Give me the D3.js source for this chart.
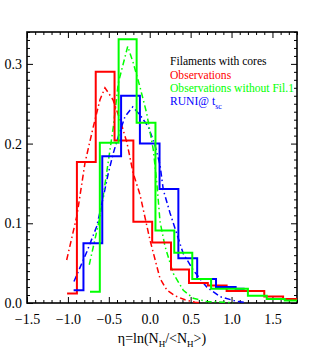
<!DOCTYPE html>
<html>
<head>
<meta charset="utf-8">
<script src="https://cdn.jsdelivr.net/npm/d3@7"></script>
<style>
  body { margin: 0; background: #fff; }
  text { font-family: "Liberation Serif", "Times New Roman", serif; }
</style>
</head>
<body>
<div class="chart"></div>
<script>
// histogram bin edges (eta) and heights
const redEdges = [-1.01, -0.89, -0.66, -0.43, -0.20, 0.03, 0.26, 0.48, 0.71, 0.94, 1.17, 1.40, 1.63, 1.80];
const redCounts = [0.012, 0.177, 0.290, 0.204, 0.102, 0.076, 0.042, 0.025, 0.022, 0.015, 0.015, 0.008, 0.005];

const greenEdges = [-0.73, -0.61, -0.38, -0.16, 0.07, 0.30, 0.52, 0.75, 0.98, 1.20, 1.43, 1.65, 1.80];
const greenCounts = [0.014, 0.201, 0.331, 0.226, 0.091, 0.063, 0.030, 0.018, 0.018, 0.009, 0.005, 0.003];

const blueEdges = [-0.93, -0.81, -0.58, -0.35, -0.12, 0.12, 0.35, 0.58, 0.81, 1.05, 1.16];
const blueCounts = [0.016, 0.075, 0.184, 0.260, 0.200, 0.143, 0.056, 0.030, 0.020, 0.018];

// fitted curves (dash-dot)
const redFit = [[-1.015,0.054],[-0.889,0.110],[-0.791,0.176],[-0.690,0.221],[-0.608,0.255],[-0.547,0.270],
  [-0.449,0.255],[-0.363,0.230],[-0.278,0.201],[-0.205,0.164],[-0.119,0.136],[0.003,0.079],[0.125,0.031],
  [0.211,0.016],[0.309,0.009],[0.431,0.004],[0.553,0.001],[0.62,0.0]];
const greenFit = [[-0.739,0.048],[-0.608,0.108],[-0.534,0.158],[-0.445,0.221],[-0.384,0.276],[-0.269,0.322],
  [-0.201,0.301],[-0.119,0.271],[-0.037,0.238],[0.044,0.192],[0.089,0.148],[0.126,0.102],[0.187,0.071],
  [0.288,0.037],[0.410,0.016],[0.533,0.006],[0.696,0.002],[1.018,0.0004]];
const blueFit = [[-0.926,0.027],[-0.770,0.064],[-0.648,0.096],[-0.567,0.133],[-0.506,0.163],[-0.445,0.188],
  [-0.384,0.209],[-0.302,0.234],[-0.208,0.246],[-0.119,0.236],[-0.017,0.221],[0.064,0.198],[0.126,0.173],
  [0.166,0.142],[0.248,0.113],[0.330,0.087],[0.410,0.062],[0.533,0.041],[0.696,0.020],[0.859,0.008],
  [1.063,0.002],[1.185,0.0004]];

const xTicks = [-1.5, -1.0, -0.5, 0.0, 0.5, 1.0, 1.5];
const yTicks = [0.0, 0.1, 0.2, 0.3];
const legendLabels = ["Filaments with cores", "Observations", "Observations without Fil.1", "RUNI@ t"];

const W = 314, H = 353;
const margin = {top: 32, right: 17, bottom: 50, left: 27};
const w = W - margin.left - margin.right;
const h = H - margin.top - margin.bottom;
const serif = "Liberation Serif, Times New Roman, serif";

const svg = d3.select(".chart").append("svg")
    .attr("width", W)
    .attr("height", H);

const g = svg.append("g")
    .attr("transform", `translate(${margin.left},${margin.top})`);

const x = d3.scaleLinear().domain([-1.5, 1.8]).range([0, w]);
const y = d3.scaleLinear().domain([0, 0.34]).range([h, 0]);

const xMinor = d3.range(-15, 19).map(d => d / 10).filter(d => xTicks.indexOf(d) < 0);
const yMinor = d3.range(0, 35).map(d => d / 100).filter(d => d % 0.1 > 0.001 && d % 0.1 < 0.099);

function styleAxis(sel) {
    sel.select(".domain").remove();
    sel.selectAll(".tick line").attr("stroke", "#000").attr("stroke-width", 1);
    sel.selectAll(".tick text")
        .attr("font-family", serif)
        .attr("font-size", 14)
        .attr("fill", "#000");
}

// bottom
g.append("g").attr("transform", `translate(0,${h})`)
    .call(d3.axisBottom(x).tickValues(xTicks).tickSize(-6).tickPadding(11).tickFormat(d3.format(".1f")))
    .call(styleAxis);
g.append("g").attr("transform", `translate(0,${h})`)
    .call(d3.axisBottom(x).tickValues(xMinor).tickSize(-3).tickFormat(""))
    .call(styleAxis);
// top
g.append("g")
    .call(d3.axisTop(x).tickValues(xTicks).tickSize(-6).tickFormat(""))
    .call(styleAxis);
g.append("g")
    .call(d3.axisTop(x).tickValues(xMinor).tickSize(-3).tickFormat(""))
    .call(styleAxis);
// left
g.append("g")
    .call(d3.axisLeft(y).tickValues(yTicks).tickSize(-6).tickPadding(5).tickFormat(d3.format(".1f")))
    .call(styleAxis);
g.append("g")
    .call(d3.axisLeft(y).tickValues(yMinor).tickSize(-3).tickFormat(""))
    .call(styleAxis);
// right
g.append("g").attr("transform", `translate(${w},0)`)
    .call(d3.axisRight(y).tickValues(yTicks).tickSize(-6).tickFormat(""))
    .call(styleAxis);
g.append("g").attr("transform", `translate(${w},0)`)
    .call(d3.axisRight(y).tickValues(yMinor).tickSize(-3).tickFormat(""))
    .call(styleAxis);

// frame
g.append("rect")
    .attr("width", w).attr("height", h)
    .attr("fill", "none").attr("stroke", "#000").attr("stroke-width", 1.6);

const stepLine = d3.line()
    .curve(d3.curveStepAfter)
    .x(d => x(d[0]))
    .y(d => y(d[1]));

const fitLine = d3.line()
    .x(d => x(d[0]))
    .y(d => y(d[1]));

function steps(edges, counts) {
    return edges.map((e, i) => [e, counts[Math.min(i, counts.length - 1)]]);
}

const hists = [
    {edges: redEdges, counts: redCounts, color: "#ff0000"},
    {edges: blueEdges, counts: blueCounts, color: "#0000ff"},
    {edges: greenEdges, counts: greenCounts, color: "#00ff00"}
];
const fits = [
    {pts: redFit, color: "#ff0000"},
    {pts: blueFit, color: "#0000ff"},
    {pts: greenFit, color: "#00ff00"}
];

g.selectAll(".fit")
    .data(fits)
    .join("path")
    .attr("class", "fit")
    .attr("fill", "none")
    .attr("stroke", d => d.color)
    .attr("stroke-width", 1.5)
    .attr("stroke-dasharray", "6,3,1.5,3")
    .attr("d", d => fitLine(d.pts));

g.selectAll(".hist")
    .data(hists)
    .join("path")
    .attr("class", "hist")
    .attr("fill", "none")
    .attr("stroke", d => d.color)
    .attr("stroke-width", 2)
    .attr("d", d => stepLine(steps(d.edges, d.counts)));

// legend
const legendColors = ["#000", "#ff0000", "#00ff00", "#0000ff"];
const legendY = [65, 78.7, 92.3, 104.5];
const leg = svg.append("g");
legendLabels.forEach((t, i) => {
    const txt = leg.append("text")
        .attr("x", 170)
        .attr("y", legendY[i])
        .attr("font-family", serif)
        .attr("font-size", 11.6)
        .attr("fill", legendColors[i])
        .text(t);
    if (i === 3) {
        txt.append("tspan").attr("dy", 4).attr("font-size", 8).text("sc");
    }
});

// x axis title
svg.append("text")
    .attr("x", margin.left + w / 2)
    .attr("y", 343)
    .attr("text-anchor", "middle")
    .attr("font-family", serif)
    .attr("font-size", 14)
    .attr("fill", "#000")
    .call(t => {
        t.append("tspan").text("η=ln(N");
        t.append("tspan").attr("dy", 4).attr("font-size", 9).text("H");
        t.append("tspan").attr("dy", -4).text("/<N");
        t.append("tspan").attr("dy", 4).attr("font-size", 9).text("H");
        t.append("tspan").attr("dy", -4).text(">)");
    });
</script>
</body>
</html>
